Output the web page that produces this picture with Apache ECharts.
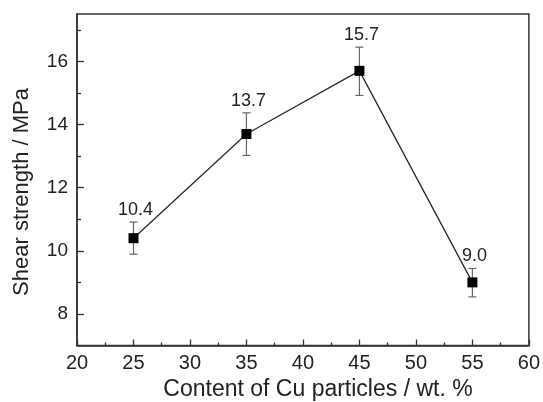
<!DOCTYPE html>
<html>
<head>
<meta charset="utf-8">
<script src="https://cdn.jsdelivr.net/npm/echarts@6/dist/echarts.min.js"></script>
<style>html,body{margin:0;padding:0;background:#fff;}#c{width:543px;height:402px;}</style>
</head>
<body>
<div id="c"></div>
<script>
var xValues = [25, 35, 45, 55];
var strength = [10.4, 13.7, 15.7, 9.0];
var errUpper = [10.91, 14.37, 16.45, 9.44];
var errLower = [9.89, 13.02, 14.92, 8.54];
var valueLabels = ['10.4', '13.7', '15.7', '9.0'];
var yMajorTicks = [8, 10, 12, 14, 16];
var yMinorTicks = [9, 11, 13, 15, 17];

var FONT = '"Liberation Sans", Arial, sans-serif';
var chart = echarts.init(document.getElementById('c'));

var lineData = xValues.map(function (x, i) { return [x, strength[i]]; });
var errData = xValues.map(function (x, i) { return [x, errLower[i], errUpper[i], i]; });

chart.setOption({
  animation: false,
  backgroundColor: '#fff',
  grid: { left: 77, right: 13, top: 14, bottom: 56.5, show: true, borderColor: '#333', borderWidth: 1.5, backgroundColor: 'transparent' },
  xAxis: {
    type: 'value', min: 20, max: 60, interval: 5,
    axisLine: { lineStyle: { color: '#333', width: 1.5 } },
    axisTick: { inside: true, length: 6, lineStyle: { color: '#333', width: 1.3 } },
    minorTick: { show: true, splitNumber: 2, length: 3, lineStyle: { color: '#333', width: 1.3 } },
    axisLabel: { fontFamily: FONT, fontSize: 20, color: '#222', margin: 8 },
    splitLine: { show: false }
  },
  yAxis: [{
    type: 'value', min: 7, max: 17.5,
    axisLine: { lineStyle: { color: '#333', width: 1.5 } },
    axisTick: { inside: true, length: 7, customValues: yMajorTicks, lineStyle: { color: '#333', width: 1.3 } },
    axisLabel: { fontFamily: FONT, fontSize: 19, color: '#222', margin: 9, customValues: yMajorTicks },
    splitLine: { show: false }
  }, {
    type: 'value', min: 7, max: 17.5, position: 'left',
    axisLine: { show: false },
    axisTick: { inside: true, length: 4, customValues: yMinorTicks, lineStyle: { color: '#333', width: 1.3 } },
    axisLabel: { show: false },
    splitLine: { show: false }
  }],
  graphic: [{
    type: 'text', rotation: Math.PI / 2,
    x: 22, y: 192,
    style: { text: 'Shear strength / MPa', fontFamily: FONT, fontSize: 22, fill: '#222', align: 'center', verticalAlign: 'middle' }
  }, {
    type: 'text', x: 318, y: 390,
    style: { text: 'Content of Cu particles / wt. %', fontFamily: FONT, fontSize: 23, fill: '#222', align: 'center', verticalAlign: 'middle' }
  }],
  series: [{
    type: 'line', data: lineData, yAxisIndex: 0,
    symbol: 'rect', symbolSize: 10,
    itemStyle: { color: '#000' },
    lineStyle: { color: '#2a2a2a', width: 1.3 },
    z: 3
  }, {
    type: 'custom', yAxisIndex: 0, data: errData, z: 2,
    renderItem: function (params, api) {
      var x = api.value(0);
      var lo = api.coord([x, api.value(1)]);
      var hi = api.coord([x, api.value(2)]);
      var idx = api.value(3);
      var c = { stroke: '#666', lineWidth: 1.2 };
      return {
        type: 'group',
        children: [
          { type: 'line', shape: { x1: lo[0], y1: lo[1], x2: hi[0], y2: hi[1] }, style: c },
          { type: 'line', shape: { x1: hi[0] - 4, y1: hi[1], x2: hi[0] + 4, y2: hi[1] }, style: c },
          { type: 'line', shape: { x1: lo[0] - 4, y1: lo[1], x2: lo[0] + 4, y2: lo[1] }, style: c },
          { type: 'text', x: hi[0] + 2, y: hi[1] - 3,
            style: { text: valueLabels[idx], fontFamily: FONT, fontSize: 18, fill: '#222', align: 'center', verticalAlign: 'bottom' } }
        ]
      };
    }
  }]
});
</script>
</body>
</html>
